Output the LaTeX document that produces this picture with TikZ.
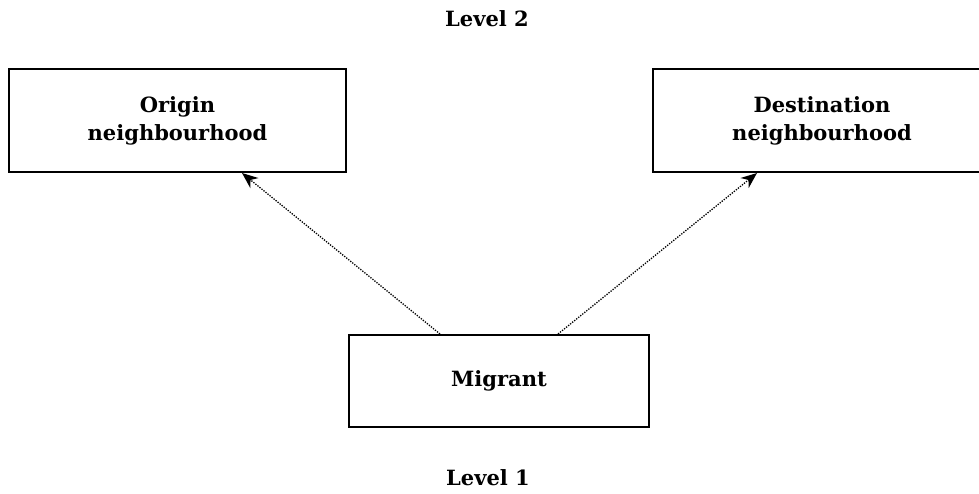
\documentclass[tikz,border=0pt]{standalone}
\usepackage{fontspec}
\setmainfont{DejaVu Serif}
\usetikzlibrary{arrows.meta,calc}
\begin{document}
\begin{tikzpicture}[x=1pt,y=-1pt,
  lbl/.style={font=\fontsize{21}{28}\selectfont\bfseries, align=center},
  box/.style={draw, line width=2pt, lbl, inner sep=0pt},
  link/.style={line width=1.3pt, dash pattern=on 1.3pt off 1.3pt, -{Stealth[length=16pt,width=13pt,inset=5pt,line width=0pt,fill=black]}}]
\useasboundingbox (0,0) rectangle (979,493);
\clip (0,0) rectangle (979,493);
\node[lbl, anchor=base] (lvl2) at (487,26) {Level 2};
\node[lbl, anchor=base] (lvl1) at (488,485) {Level 1};
\node[box, minimum width=337pt, minimum height=103pt] (origin) at (177.5,120.5) {Origin\\neighbourhood};
\node[box, minimum width=338pt, minimum height=103pt] (dest) at (822,120.5) {Destination\\neighbourhood};
\node[box, minimum width=300pt, minimum height=92pt] (migrant) at (499,381) {Migrant};
\draw[link] ([xshift=-59pt]migrant.north) -- ([xshift=64.5pt]origin.south);
\draw[link] ([xshift=59pt]migrant.north) -- ([xshift=-65pt]dest.south);
\end{tikzpicture}
\end{document}
